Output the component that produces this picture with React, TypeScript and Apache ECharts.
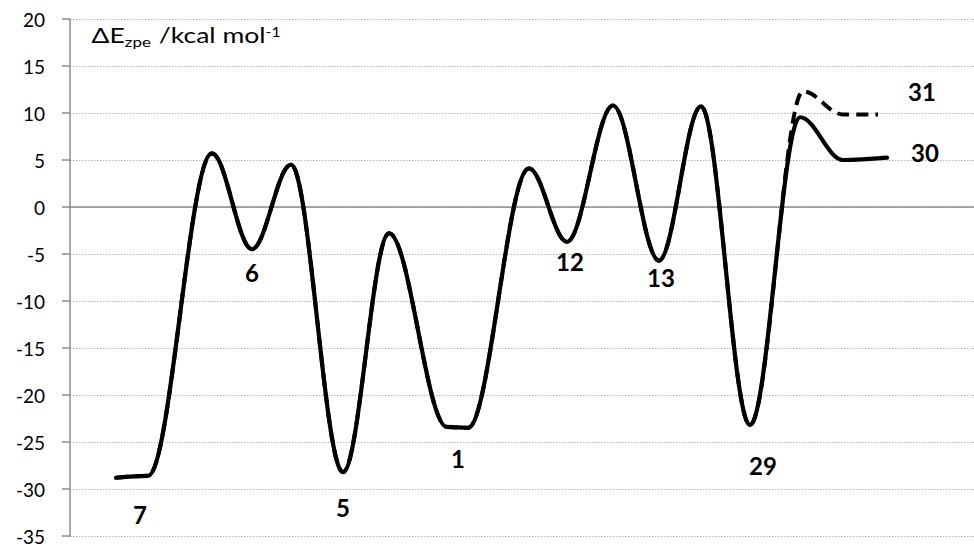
import React, { useEffect, useRef } from "react";
import * as echarts from "echarts";

// Reaction coordinate (arbitrary units) and energies (kcal/mol)
const pathX = [4.6, 7.8, 14.2, 18.2, 22.1, 27.3, 31.9, 37.7, 39.8, 45.9, 49.7, 54.3, 58.9, 63.1, 68.0, 73.0, 77.3, 81.7];
const pathE = [-28.8, -28.6, 5.7, -4.5, 4.5, -28.2, -2.8, -23.4, -23.5, 4.1, -3.7, 10.8, -5.7, 10.7, -23.2, 9.55, 5.0, 5.25];

// branch towards 31: follows the common path up to 29 (index 14), then these points
const branchFrom = 15;
const branchX = [73.3, 77.3, 80.8];
const branchE = [12.3, 9.85, 9.85];

const labelNames = ["7", "6", "5", "1", "12", "13", "29", "31", "30"];
const labelX = [7.0, 18.2, 27.3, 38.8, 50.0, 59.1, 69.3, 85.2, 85.5];
const labelE = [-32.7, -7.0, -32.0, -26.75, -5.85, -7.45, -27.5, 12.3, 5.85];

const yTicks = { min: -35, max: 20, interval: 5 };
const xRange = { min: 0, max: 90.4 };

const FONT = "Lato, 'Open Sans', sans-serif";

function measure(text: string, size: number): number {
  const c = document.createElement("canvas").getContext("2d");
  if (!c) return text.length * size * 0.55;
  c.font = `${size}px Lato`;
  return c.measureText(text).width;
}

export default function App() {
  const ref = useRef<HTMLDivElement>(null);
  useEffect(() => {
    if (!ref.current) return;
    const chart = echarts.init(ref.current, undefined, { renderer: "svg" });
    const main = pathX.map((x, i) => [x, pathE[i]]);
    const branch = main
      .slice(0, branchFrom)
      .concat(branchX.map((x, i) => [x, branchE[i]]));
    const labels = labelNames.map((n, i) => ({ name: n, value: [labelX[i], labelE[i]] }));

    // title pieces: main / subscript / main / superscript
    const pieces = [
      { t: "ΔE", size: 22, y: 34.6 },
      { t: "zpe", size: 14, y: 41.5 },
      { t: " /kcal mol", size: 22, y: 34.6 },
      { t: "-1", size: 13, y: 32.3 },
    ];
    let cx = 0;
    const titleChildren = pieces.map((p) => {
      const el = {
        type: "text",
        x: cx,
        y: p.y,
        style: {
          text: p.t,
          fontFamily: FONT,
          fontSize: p.size,
          fill: "#000",
          align: "left",
          verticalAlign: "middle",
        },
      };
      cx += measure(p.t, p.size) + (p.t === "zpe" ? 1 : 0);
      return el;
    });
    const titleScale = Math.min(1.3, Math.max(1, 189 / cx));

    chart.setOption({
      animation: false,
      backgroundColor: "#ffffff",
      graphic: [
        {
          type: "group",
          x: 91.5,
          y: 0,
          scaleX: titleScale,
          children: titleChildren,
        },
      ],
      grid: { left: 70, right: 0, top: 19, bottom: 17, containLabel: false, outerBoundsMode: "none" },
      xAxis: {
        type: "value",
        min: xRange.min,
        max: xRange.max,
        axisLine: { show: true, onZero: true, lineStyle: { color: "#8c8c8c", width: 1.5 } },
        axisTick: { show: false },
        axisLabel: { show: false },
        splitLine: { show: false },
      },
      yAxis: {
        type: "value",
        min: yTicks.min,
        max: yTicks.max,
        interval: yTicks.interval,
        axisLine: { show: true, onZero: false, lineStyle: { color: "#8c8c8c", width: 1.5 } },
        axisTick: { show: true, inside: false, length: 8, lineStyle: { color: "#8c8c8c", width: 1.5 } },
        axisLabel: { fontFamily: FONT, fontSize: 19, color: "#000", margin: 25 },
        splitLine: { show: true, lineStyle: { color: "#b5b5b5", width: 1, type: [1.5, 1.5] } },
      },
      series: [
        {
          type: "line",
          name: "31",
          data: branch,
          smooth: 0.35,
          smoothMonotone: "x",
          showSymbol: false,
          symbol: "none",
          lineStyle: { color: "#000", width: 4, type: [12, 7], cap: "butt" },
          z: 2,
        },
        {
          type: "line",
          name: "30",
          data: main,
          smooth: 0.35,
          smoothMonotone: "x",
          showSymbol: false,
          symbol: "none",
          lineStyle: { color: "#000", width: 4.2, type: "solid", cap: "round", join: "round" },
          z: 3,
        },
        {
          type: "scatter",
          name: "labels",
          data: labels,
          symbolSize: 0,
          silent: true,
          itemStyle: { opacity: 1, color: "#000" },
          label: {
            show: true,
            position: "inside",
            formatter: "{b}",
            fontFamily: FONT,
            fontWeight: "bold",
            fontSize: 24,
            color: "#000",
            opacity: 1,
            textBorderWidth: 0,
          },
          z: 4,
        },
      ],
    });
    return () => chart.dispose();
  }, []);
  return (
    <div
      ref={ref}
      style={{ position: "absolute", left: 0, top: 0, width: 974, height: 553, background: "#fff" }}
    />
  );
}
